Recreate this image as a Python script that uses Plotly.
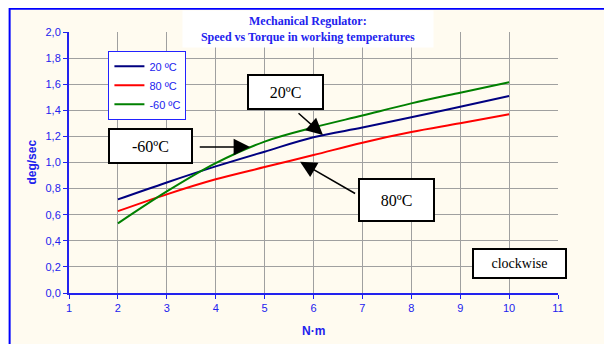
import plotly.graph_objects as go

torque = [2, 3, 4, 5, 6, 7, 8, 9, 10]
speed_20 = [0.717, 0.847, 0.970, 1.083, 1.193, 1.268, 1.346, 1.428, 1.510]
speed_80 = [0.627, 0.756, 0.871, 0.965, 1.057, 1.152, 1.233, 1.300, 1.369]
speed_m60 = [0.533, 0.778, 0.995, 1.160, 1.268, 1.360, 1.453, 1.535, 1.615]
series_names = ["20 ºC", "80 ºC", "-60 ºC"]
series_colors = ["#000080", "#FF0000", "#008000"]
x_ticks = list(range(1, 12))
y_ticks = [0.0, 0.2, 0.4, 0.6, 0.8, 1.0, 1.2, 1.4, 1.6, 1.8, 2.0]

BLUE = "#2222EE"
CREAM = "#FFFBF0"

fig = go.Figure()
for name, vals, col in zip(series_names, [speed_20, speed_80, speed_m60], series_colors):
    fig.add_trace(go.Scatter(x=torque, y=vals, name=name, mode="lines",
                             line=dict(color=col, width=2, shape="spline", smoothing=1.0)))

# page offset (browser body margin)
OFF = 8
FW, FH = 612 - OFF, 344 - OFF
# plot area in screen pixels
L, R, T, B = 68.5, 558.5, 32.3, 292.7
W = R - L
H = B - T

def dx(px):
    return 1 + (px - L) / 49.0

def dy(py):
    return (B - py) / 130.2

def px_(px):
    return (px - L) / W

def py_(py):
    return (B - py) / H

annotations = []
# title
annotations.append(dict(xref="paper", yref="paper", x=px_(308), y=py_(29), xanchor="center", yanchor="middle",
                        text="<b>Mechanical Regulator:</b><br><b>Speed vs Torque in working temperatures</b>",
                        showarrow=False, bgcolor="white", width=248, height=34,
                        font=dict(family="Liberation Serif", size=12, color=BLUE)))
# axis titles
annotations.append(dict(xref="paper", yref="paper", x=px_(31), y=py_(162), xanchor="center", yanchor="middle",
                        text="<b>deg/sec</b>", textangle=-90, showarrow=False,
                        font=dict(family="Liberation Sans", size=12, color=BLUE)))
annotations.append(dict(xref="paper", yref="paper", x=px_(313), y=py_(331), xanchor="center", yanchor="middle",
                        text="<b>N·m</b>", showarrow=False,
                        font=dict(family="Liberation Sans", size=12, color=BLUE)))

boxes = [
    ("20ºC", 285.5, 92, 73, 32, 16),
    ("-60ºC", 150.5, 146, 81, 32, 16),
    ("80ºC", 396.4, 199.5, 73, 40, 16),
    ("clockwise", 520.4, 263.7, 91, 27, 14),
]
for txt, cx, cy, w, h, fs in boxes:
    annotations.append(dict(xref="paper", yref="paper", x=px_(cx), y=py_(cy), xanchor="center", yanchor="middle",
                            text=txt, showarrow=False, bgcolor="white", bordercolor="black", borderwidth=2,
                            borderpad=0, width=w, height=h,
                            font=dict(family="Liberation Serif", size=fs, color="black")))

arrows = [
    ((297, 112), (323, 135)),
    ((198, 147), (250, 147)),
    ((356.7, 194.3), (300, 161.7)),
]
for (tx, ty), (hx, hy) in arrows:
    annotations.append(dict(xref="x", yref="y", axref="x", ayref="y", x=dx(hx), y=dy(hy), ax=dx(tx), ay=dy(ty),
                            text="", showarrow=True, arrowhead=2, arrowsize=2.2, arrowwidth=1.5,
                            arrowcolor="black", standoff=0, startstandoff=0))

shapes = [
    dict(type="rect", xref="paper", yref="paper", x0=px_(8), x1=px_(607), y0=py_(360), y1=py_(8),
         line=dict(width=0), fillcolor=CREAM, layer="below"),
    dict(type="rect", xref="paper", yref="paper", x0=px_(9), x1=px_(607), y0=py_(360), y1=py_(9),
         line=dict(color="#0000FF", width=2), fillcolor="rgba(0,0,0,0)", layer="above"),
]

fig.update_layout(
    width=FW, height=FH,
    margin=dict(l=L - OFF, r=612 - R, t=T - OFF, b=344 - B, autoexpand=False),
    paper_bgcolor="white", plot_bgcolor=CREAM,
    separators=",.",
    showlegend=True,
    legend=dict(x=px_(108), y=py_(51), xanchor="left", yanchor="top", bgcolor="white",
                bordercolor="#2222FF", borderwidth=1, itemwidth=30, tracegroupgap=0,
                font=dict(family="Liberation Sans", size=11, color=BLUE)),
    annotations=annotations,
    shapes=shapes,
    xaxis=dict(range=[1, 11], tickvals=x_ticks, showgrid=True, gridcolor="#A0A0A0", gridwidth=1,
               showline=True, linecolor=BLUE, linewidth=2, ticks="outside", ticklen=4, tickcolor=BLUE,
               tickfont=dict(family="Liberation Sans", size=11, color=BLUE), zeroline=False, automargin=False),
    yaxis=dict(range=[0, 2], tickvals=y_ticks, tickformat=".1f", showgrid=True, gridcolor="#A0A0A0", gridwidth=1,
               showline=True, linecolor=BLUE, linewidth=2, ticks="outside", ticklen=4, tickcolor=BLUE,
               tickfont=dict(family="Liberation Sans", size=11, color=BLUE), zeroline=False, automargin=False),
)
fig.write_html("out.html")
